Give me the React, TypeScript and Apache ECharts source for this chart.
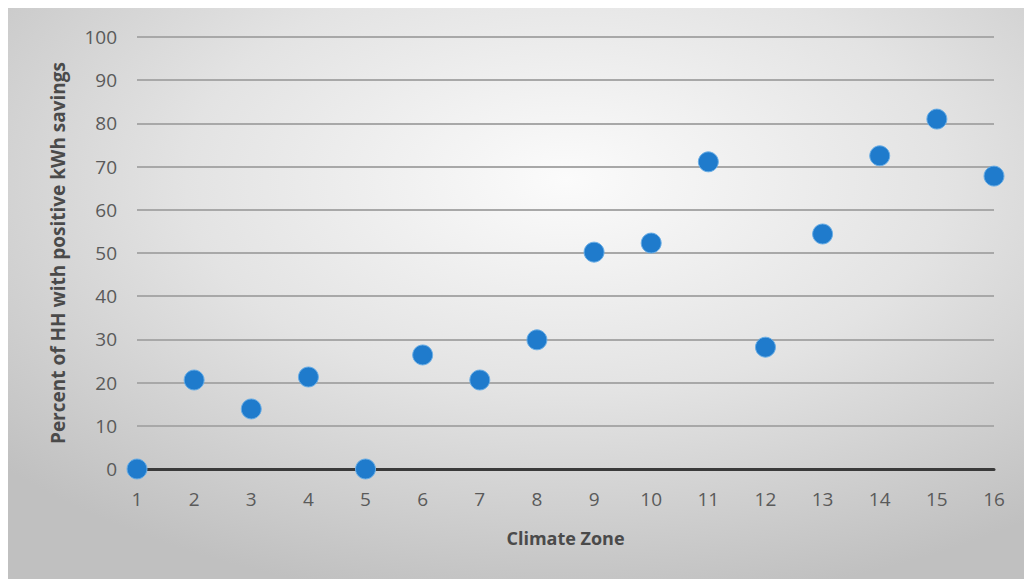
import React, { useEffect, useRef } from "react";
import * as echarts from "echarts";

const zones = [1, 2, 3, 4, 5, 6, 7, 8, 9, 10, 11, 12, 13, 14, 15, 16];
const percentPositive = [0, 20.6, 13.9, 21.3, 0, 26.4, 20.6, 29.9, 50.2, 52.3, 71.1, 28.2, 54.4, 72.5, 81.0, 67.8];
const xTitle = "Climate Zone";
const yTitle = "Percent of HH with positive kWh savings";

export default function App() {
  const ref = useRef<HTMLDivElement>(null);
  useEffect(() => {
    document.body.style.margin = "0";
    document.body.style.overflow = "hidden";
    const chart = echarts.init(ref.current!, null, { renderer: "svg" });
    const font = "'Open Sans', 'Liberation Sans', sans-serif";
    chart.setOption({
      animation: false,
      backgroundColor: new echarts.graphic.RadialGradient(0.55, 0.3, 0.75, [
        { offset: 0, color: "#fbfbfb" },
        { offset: 0.5, color: "#e3e3e3" },
        { offset: 1, color: "#c0c0c0" },
      ]),
      grid: { left: 129, right: 30, top: 29, bottom: 110, containLabel: false },
      xAxis: {
        type: "value",
        min: 1,
        max: 16,
        interval: 1,
        name: xTitle,
        nameLocation: "middle",
        nameGap: 60,
        nameTextStyle: { color: "#4a4a4a", fontSize: 18, fontWeight: "bold", fontFamily: font },
        axisLine: { show: true, onZero: true, lineStyle: { color: "#3a3a3a", width: 3 } },
        axisTick: { show: false },
        splitLine: { show: false },
        axisLabel: { color: "#5a5a5a", fontSize: 19, margin: 20, fontFamily: font },
      },
      yAxis: {
        type: "value",
        min: 0,
        max: 100,
        interval: 10,
        name: yTitle,
        nameLocation: "middle",
        nameGap: 70,
        nameTextStyle: { color: "#4a4a4a", fontSize: 19, fontWeight: "bold", fontFamily: font },
        axisLine: { show: false },
        axisTick: { show: false },
        splitLine: { show: true, lineStyle: { color: "#a8a8a8", width: 2 } },
        axisLabel: { color: "#5a5a5a", fontSize: 19, margin: 20, fontFamily: font },
      },
      series: [
        {
          type: "scatter",
          data: zones.map((z, i) => [z, percentPositive[i]]),
          symbolSize: 20,
          itemStyle: { color: "#1f7bcc", borderColor: "#6aaee6", borderWidth: 1, opacity: 1 },
          z: 5,
        },
      ],
    });
    return () => chart.dispose();
  }, []);
  return (
    <div style={{ width: 1024, height: 579, background: "#ffffff", paddingLeft: 8, paddingTop: 8, boxSizing: "border-box" }}>
      <div ref={ref} style={{ width: 1016, height: 571 }} />
    </div>
  );
}
